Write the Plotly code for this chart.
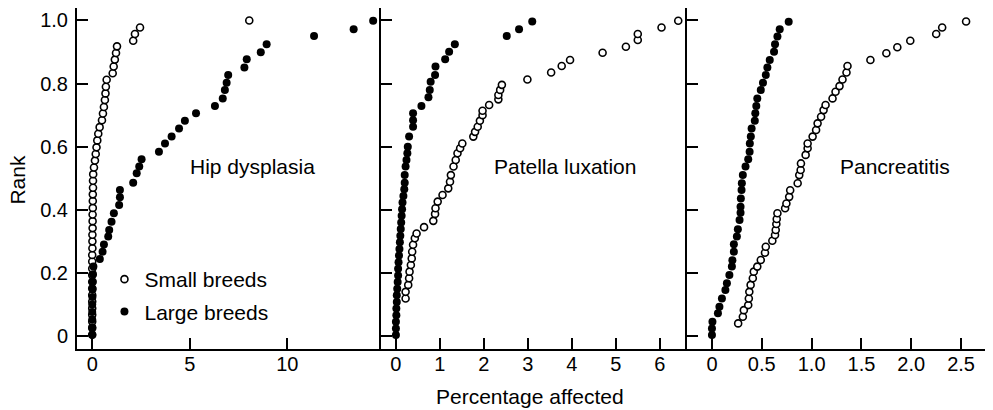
import plotly.graph_objects as go

# ---- data (x = percentage affected, y = rank) ----
hip_small_x = [0, 0, 0, 0, 0, 0, 0, 0, 0, 0, 0,
               0, 0, 0.01, 0.01, 0.01, 0.02, 0.02, 0.02, 0.03, 0.03, 0.03, 0.04, 0.04, 0.05,
               0.09, 0.14, 0.18, 0.22, 0.26, 0.31, 0.38, 0.5, 0.55, 0.6, 0.65, 0.68, 0.7, 0.74,
               1.05, 1.1, 1.16, 1.22, 1.27,
               2.1, 2.19, 2.45, 8.05]
hip_small_rank = [0.004, 0.025, 0.046, 0.067, 0.088, 0.109, 0.13, 0.151, 0.172, 0.193, 0.214,
                  0.236, 0.257, 0.278, 0.3, 0.321, 0.342, 0.364, 0.385, 0.406, 0.428, 0.449, 0.47, 0.492, 0.513,
                  0.534, 0.556, 0.577, 0.598, 0.62, 0.641, 0.662, 0.684, 0.705, 0.726, 0.748, 0.769, 0.79, 0.812,
                  0.833, 0.854, 0.876, 0.897, 0.918,
                  0.936, 0.957, 0.978, 1.0]

hip_large_x = [0, 0, 0, 0, 0, 0.01, 0.02, 0.03, 0.04, 0.06,
               0.39, 0.53, 0.6, 0.82, 0.87, 0.99, 1.11, 1.38, 1.42, 1.42, 2.1, 2.28, 2.41, 2.53,
               3.42, 3.73, 4.07, 4.45, 4.75, 5.32, 6.29, 6.69, 6.8, 6.89, 6.97, 7.8, 7.92,
               8.64, 8.94, 11.37, 13.4, 14.4]
hip_large_rank = [0.004, 0.028, 0.052, 0.076, 0.1, 0.124, 0.148, 0.172, 0.196, 0.22,
                  0.244, 0.267, 0.29, 0.315, 0.336, 0.362, 0.389, 0.415, 0.44, 0.463, 0.486, 0.516, 0.537, 0.56,
                  0.584, 0.61, 0.632, 0.658, 0.682, 0.706, 0.729, 0.753, 0.78, 0.803, 0.827, 0.851, 0.877,
                  0.899, 0.925, 0.951, 0.972, 0.999]

pat_small_x = [0.22, 0.22, 0.28, 0.3, 0.31, 0.34, 0.36, 0.37, 0.39, 0.43, 0.47, 0.64, 0.85, 0.89,
               0.9, 0.95, 1.06, 1.19, 1.23, 1.25, 1.31, 1.36, 1.4, 1.46, 1.51, 1.76, 1.8, 1.86,
               1.91, 1.97, 1.97, 2.12, 2.33, 2.33, 2.37, 2.41, 2.99, 3.53, 3.77, 3.96, 4.7, 5.23,
               5.5, 5.5, 6.04, 6.42]
pat_small_rank = [0.119, 0.14, 0.162, 0.183, 0.204, 0.225, 0.246, 0.267, 0.289, 0.31, 0.325, 0.345, 0.365, 0.387,
                  0.405, 0.426, 0.447, 0.468, 0.489, 0.51, 0.537, 0.558, 0.579, 0.595, 0.61, 0.632, 0.647, 0.663,
                  0.682, 0.7, 0.714, 0.732, 0.75, 0.764, 0.78, 0.796, 0.813, 0.835, 0.856, 0.875, 0.898, 0.917,
                  0.938, 0.957, 0.978, 0.999]

pat_large_x = [0, 0, 0, 0.01, 0.01, 0.02, 0.02, 0.03, 0.04, 0.05, 0.05, 0.06, 0.07, 0.08, 0.09,
               0.1, 0.11, 0.12, 0.13, 0.14, 0.15, 0.17, 0.19, 0.2, 0.2, 0.22, 0.24, 0.26, 0.27, 0.3,
               0.39, 0.39, 0.39, 0.58, 0.74, 0.77, 0.79, 0.89, 0.9, 1.12, 1.21, 1.34, 2.52, 2.8, 3.1]
pat_large_rank = [0.003, 0.024, 0.045, 0.066, 0.087, 0.108, 0.129, 0.15, 0.171, 0.192, 0.213, 0.234, 0.255, 0.276, 0.297,
                  0.318, 0.339, 0.36, 0.381, 0.402, 0.423, 0.444, 0.465, 0.486, 0.51, 0.537, 0.558, 0.579, 0.6, 0.632,
                  0.663, 0.684, 0.706, 0.729, 0.757, 0.78, 0.806, 0.827, 0.854, 0.877, 0.901, 0.925, 0.951, 0.972, 0.997]

pan_small_x = [0.263, 0.31, 0.32, 0.364, 0.37, 0.375, 0.388, 0.41, 0.42, 0.455, 0.49, 0.532, 0.54,
               0.606, 0.633, 0.64, 0.646, 0.65, 0.657, 0.734, 0.747, 0.775, 0.785, 0.86, 0.876, 0.89,
               0.893, 0.94, 0.96, 0.96, 1.01, 1.045, 1.06, 1.095, 1.12, 1.14, 1.21, 1.24, 1.28, 1.31,
               1.35, 1.36, 1.59, 1.75, 1.86, 1.99, 2.25, 2.31, 2.55]
pan_small_rank = [0.04, 0.061, 0.082, 0.098, 0.119, 0.14, 0.162, 0.183, 0.204, 0.22, 0.241, 0.264, 0.283,
                  0.302, 0.32, 0.336, 0.355, 0.371, 0.389, 0.405, 0.42, 0.441, 0.462, 0.484, 0.51, 0.526,
                  0.547, 0.574, 0.595, 0.61, 0.632, 0.653, 0.674, 0.695, 0.716, 0.732, 0.753, 0.774, 0.792, 0.813,
                  0.835, 0.856, 0.875, 0.896, 0.915, 0.936, 0.957, 0.978, 0.997]

pan_large_x = [0, 0, 0.005, 0.06, 0.075, 0.1, 0.135, 0.15, 0.175, 0.2, 0.205, 0.22, 0.22, 0.25,
               0.26, 0.277, 0.287, 0.287, 0.29, 0.297, 0.3, 0.31, 0.337, 0.364, 0.378, 0.38, 0.39,
               0.398, 0.43, 0.435, 0.445, 0.455, 0.49, 0.512, 0.54, 0.556, 0.58, 0.623, 0.633, 0.657,
               0.68, 0.77]
pan_large_rank = [0.003, 0.024, 0.045, 0.072, 0.093, 0.119, 0.146, 0.167, 0.193, 0.22, 0.24, 0.267, 0.291, 0.315,
                  0.338, 0.368, 0.391, 0.41, 0.436, 0.463, 0.484, 0.51, 0.537, 0.56, 0.584, 0.61, 0.632,
                  0.658, 0.682, 0.706, 0.729, 0.753, 0.78, 0.803, 0.827, 0.851, 0.875, 0.901, 0.925, 0.949,
                  0.972, 0.996]

panels = [
    ("Hip dysplasia", hip_small_x, hip_small_rank, hip_large_x, hip_large_rank),
    ("Patella luxation", pat_small_x, pat_small_rank, pat_large_x, pat_large_rank),
    ("Pancreatitis", pan_small_x, pan_small_rank, pan_large_x, pan_large_rank),
]

FONT = "Liberation Sans, Arial, Helvetica, sans-serif"

fig = go.Figure()

for i, (name, sx, sr, lx, lr) in enumerate(panels):
    suffix = "" if i == 0 else str(i + 1)
    fig.add_trace(go.Scatter(
        x=sx, y=sr, mode="markers", name="Small breeds",
        xaxis="x" + suffix, yaxis="y" + suffix,
        legendgroup="small", showlegend=(i == 0),
        marker=dict(symbol="circle", size=7, color="white",
                    line=dict(color="black", width=1.6))
    ))
    fig.add_trace(go.Scatter(
        x=lx, y=lr, mode="markers", name="Large breeds",
        xaxis="x" + suffix, yaxis="y" + suffix,
        legendgroup="large", showlegend=(i == 0),
        marker=dict(symbol="circle", size=8, color="black",
                    line=dict(color="black", width=0))
    ))

axis_common = dict(
    showline=True, linecolor="black", linewidth=2,
    ticks="inside", ticklen=11, tickwidth=2, tickcolor="black",
    showgrid=False, zeroline=False,
    tickfont=dict(size=20, color="black", family=FONT),
)

doms = [[0, 0.3322], [0.3322, 0.6667], [0.6667, 1]]
xranges = [[-0.78, 14.8], [-0.34, 6.62], [-0.25, 2.81]]
xticks = [
    ([0, 5, 10], ["0", "5", "10"]),
    ([0, 1, 2, 3, 4, 5, 6], ["0", "1", "2", "3", "4", "5", "6"]),
    ([0, 0.5, 1, 1.5, 2, 2.5], ["0", "0.5", "1.0", "1.5", "2.0", "2.5"]),
]
yrange = [-0.0412, 1.0396]
yticks = [0, 0.2, 0.4, 0.6, 0.8, 1.0]
yticktext = ["0", "0.2", "0.4", "0.6", "0.8", "1.0"]

# the page body adds 8px around the figure, so the figure is 8px smaller
layout = dict(
    width=985, height=402,
    margin=dict(l=69, r=1, t=0, b=61),
    paper_bgcolor="white", plot_bgcolor="white",
    font=dict(family=FONT, size=21, color="black"),
    showlegend=True,
    legend=dict(
        x=0.03, y=0.264, xanchor="left", yanchor="top",
        bgcolor="rgba(0,0,0,0)", borderwidth=0,
        font=dict(size=21, family=FONT, color="black"),
        tracegroupgap=2, itemwidth=30,
    ),
)

for i in range(3):
    suffix = "" if i == 0 else str(i + 1)
    layout["xaxis" + suffix] = dict(
        axis_common, domain=doms[i], range=xranges[i],
        tickvals=xticks[i][0], ticktext=xticks[i][1],
        anchor="y" + suffix, ticklabelstandoff=-4,
    )
    layout["yaxis" + suffix] = dict(
        axis_common, domain=[0, 1], range=yrange,
        tickvals=yticks, ticktext=yticktext,
        anchor="x" + suffix, showticklabels=(i == 0),
        ticklabelstandoff=3,
    )

fig.update_layout(**layout)

# panel names and shared axis titles
label_x = [0.1918, 0.5333, 0.894]
for i, (name, *_rest) in enumerate(panels):
    fig.add_annotation(text=name, x=label_x[i], y=0.534, xref="paper", yref="paper",
                       showarrow=False, xanchor="center", yanchor="middle",
                       font=dict(size=21, family=FONT, color="black"))

fig.add_annotation(text="Rank", x=-0.066, y=0.4956, xref="paper", yref="paper",
                   showarrow=False, textangle=-90, xanchor="center", yanchor="middle",
                   font=dict(size=21, family=FONT, color="black"))
fig.add_annotation(text="Percentage affected", x=0.495, y=-0.138, xref="paper", yref="paper",
                   showarrow=False, xanchor="center", yanchor="middle",
                   font=dict(size=21, family=FONT, color="black"))

fig.write_html("out.html")
